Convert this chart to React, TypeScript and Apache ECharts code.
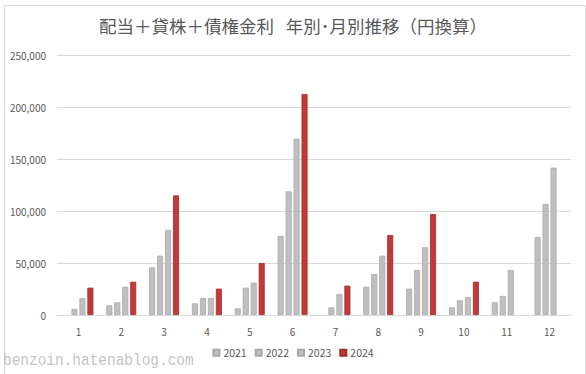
import React, { useEffect, useRef } from "react";
import * as echarts from "echarts";

const months = ["1", "2", "3", "4", "5", "6", "7", "8", "9", "10", "11", "12"];
const years = ["2021", "2022", "2023", "2024"];
const v2021 = [null, 9300, 45800, 11200, 6400, 76000, null, 27200, 25300, 7400, 12200, 75000];
const v2022 = [5800, 12200, 57000, 16300, 26300, 118900, 7400, 39400, 43300, 14100, 18300, 106700];
const v2023 = [16300, 27200, 81700, 16300, 31100, 169500, 20200, 57000, 65100, 17300, 43300, 141700];
const v2024 = [26300, 32000, 115000, 25300, 50000, 212500, 28200, 76900, 97100, 32000, null, null];
const title = "配当＋貸株＋債権金利   年別･月別推移（円換算）";
const watermark = "benzoin.hatenablog.com";

export default function App() {
  const ref = useRef<HTMLDivElement>(null);
  useEffect(() => {
    document.body.style.margin = "0";
    const chart = echarts.init(ref.current!, null, { renderer: "svg" });
    const font = "'Noto Sans CJK JP', 'Noto Sans', sans-serif";
    const gray = { color: "#bfbfbf", borderColor: "#a9a9a9", borderWidth: 0.8 };
    const red = { color: "#c0393b", borderColor: "#a52a2c", borderWidth: 0.8 };
    const all = [v2021, v2022, v2023, v2024];
    chart.setOption({
      animation: false,
      textStyle: { fontFamily: font },
      title: {
        text: title,
        left: "center",
        top: 12,
        textStyle: { fontSize: 17.5, fontWeight: "normal", color: "#595959", fontFamily: font },
      },
      legend: {
        data: years,
        bottom: 11,
        left: "center",
        icon: "rect",
        itemWidth: 6,
        itemHeight: 6,
        itemGap: 8,
        textStyle: { fontSize: 10.5, color: "#595959", padding: [0, 0, 0, -1] },
      },
      grid: { left: 57, right: 15, top: 55, bottom: 59, containLabel: false },
      xAxis: {
        type: "category",
        data: months,
        axisLine: { lineStyle: { color: "#d9d9d9" } },
        axisTick: { show: false },
        axisLabel: { color: "#595959", fontSize: 10, margin: 11 },
      },
      yAxis: {
        type: "value",
        min: 0,
        max: 250000,
        interval: 50000,
        axisLine: { show: false },
        axisTick: { show: false },
        splitLine: { lineStyle: { color: "#d9d9d9" } },
        axisLabel: {
          color: "#595959",
          fontSize: 10,
          margin: 11,
          formatter: (v: number) => v.toLocaleString("en-US"),
        },
      },
      series: years.map((y, i) => ({
        name: y,
        type: "bar",
        data: all[i],
        barWidth: 6,
        barGap: "33%",
        itemStyle: i === 3 ? red : gray,
      })),
      graphic: [
        {
          type: "rect",
          left: 2,
          top: 3,
          shape: { x: 0, y: 0, width: 581, height: 369 },
          style: { fill: "none", stroke: "#d9d9d9", lineWidth: 1 },
          silent: true,
        },
        {
          type: "text",
          x: 3,
          y: 361,
          scaleX: 0.85,
          style: {
            text: watermark,
            fontSize: 17,
            fontFamily: "'Liberation Mono', 'DejaVu Sans Mono', monospace",
            fill: "#c4c4c4",
            verticalAlign: "middle",
            align: "left",
          },
          silent: true,
        },
      ],
    });
    return () => chart.dispose();
  }, []);
  return <div ref={ref} style={{ width: 586, height: 374 }} />;
}
